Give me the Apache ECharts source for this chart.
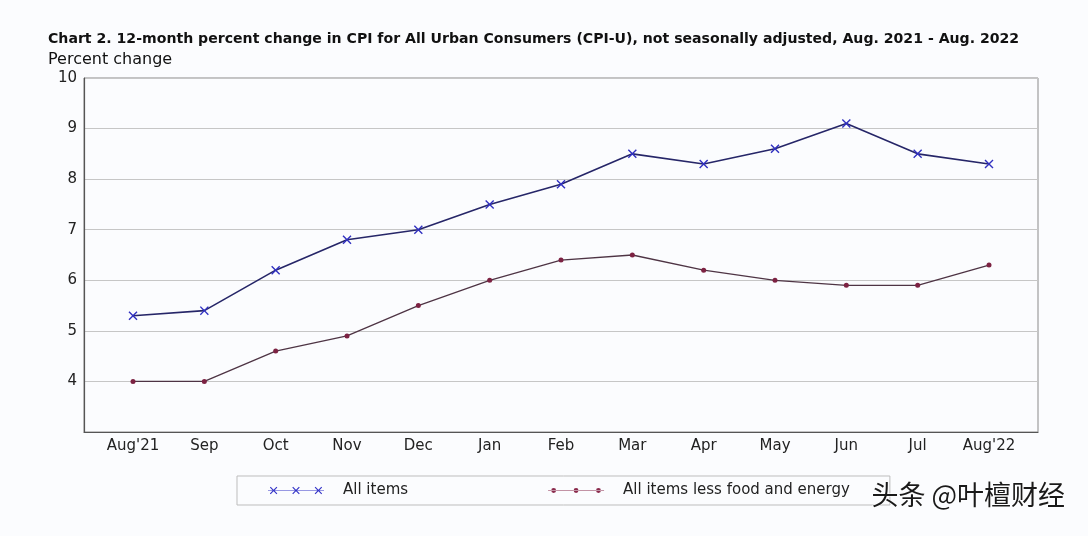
<!DOCTYPE html>
<html>
<head>
<meta charset="utf-8">
<script src="https://cdn.jsdelivr.net/npm/echarts@6/dist/echarts.min.js"></script>
<style>
html,body{margin:0;padding:0;background:#fbfcfe;}
#c{width:1088px;height:536px;}
</style>
</head>
<body>
<div id="c"></div>
<script>
const categories = ["Aug'21","Sep","Oct","Nov","Dec","Jan","Feb","Mar","Apr","May","Jun","Jul","Aug'22"];
const allItems = [5.3, 5.4, 6.2, 6.8, 7.0, 7.5, 7.9, 8.5, 8.3, 8.6, 9.1, 8.5, 8.3];
const coreItems = [4.0, 4.0, 4.6, 4.9, 5.5, 6.0, 6.4, 6.5, 6.2, 6.0, 5.9, 5.9, 6.3];
const yTicks = [3, 4, 5, 6, 7, 8, 9, 10];
const seriesNames = ["All items", "All items less food and energy"];

function crossPath(cx, cy, h, d) {
  return `M${cx-h},${cy-h+d}L${cx-h+d},${cy-h}L${cx},${cy-d}L${cx+h-d},${cy-h}L${cx+h},${cy-h+d}L${cx+d},${cy}L${cx+h},${cy+h-d}L${cx+h-d},${cy+h}L${cx},${cy+d}L${cx-h+d},${cy+h}L${cx-h},${cy+h-d}L${cx-d},${cy}Z`;
}
function dotPath(cx, cy, r) {
  return `M${cx-r},${cy}A${r},${r} 0 1,0 ${cx+r},${cy}A${r},${r} 0 1,0 ${cx-r},${cy}Z`;
}
const xSymbol = 'path://' + crossPath(5, 5, 5, 1.1);
const legendAll = 'path://M0,4.6L60,4.6L60,5.4L0,5.4Z' + [6, 30, 54].map(c => crossPath(c, 5, 4, 0.9)).join('');
const legendCore = 'path://M0,4.6L60,4.6L60,5.4L0,5.4Z' + [6, 30, 54].map(c => dotPath(c, 5, 2.6)).join('');

const chart = echarts.init(document.getElementById('c'));
const font = 'DejaVu Sans, Verdana, sans-serif';
chart.setOption({
  backgroundColor: '#fbfcfe',
  animation: false,
  textStyle: {fontFamily: font},
  title: [
    {text: 'Chart 2. 12-month percent change in CPI for All Urban Consumers (CPI-U), not seasonally adjusted, Aug. 2021 - Aug. 2022',
     left: 48, top: 32, padding: 0, textStyle: {fontSize: 14.1, fontWeight: 'bold', color: '#111', fontFamily: font}},
    {text: 'Percent change', left: 48, top: 52, padding: 0, textStyle: {fontSize: 16, fontWeight: 'normal', color: '#111', fontFamily: font}}
  ],
  grid: [
    {left: 84, right: 50, top: 78, bottom: 104, show: true, borderColor: '#8a8a8a', borderWidth: 1, backgroundColor: 'transparent'},
    {left: 133, right: 99, top: 78, bottom: 104}
  ],
  xAxis: [
    {gridIndex: 0, type: 'value', min: 0, max: 1, axisLine: {show: true, onZero: false, lineStyle: {color: '#555', width: 1.2}},
     axisTick: {show: false}, axisLabel: {show: false}, splitLine: {show: false}},
    {gridIndex: 1, type: 'category', data: categories, boundaryGap: false,
     axisLine: {show: false}, axisTick: {show: false}, splitLine: {show: false},
     axisLabel: {fontSize: 15, color: '#222', margin: 7, interval: 0, fontFamily: font}}
  ],
  yAxis: [
    {gridIndex: 0, type: 'value', min: yTicks[0], max: yTicks[yTicks.length-1], interval: 1,
     axisLine: {show: true, lineStyle: {color: '#555', width: 1.2}}, axisTick: {show: false},
     axisLabel: {fontSize: 15, color: '#222', margin: 7, fontFamily: font, formatter: v => v === yTicks[0] ? '' : String(v)},
     splitLine: {show: true, lineStyle: {color: '#c6c6c6', width: 1}}},
    {gridIndex: 1, type: 'value', min: yTicks[0], max: yTicks[yTicks.length-1], show: false, splitLine: {show: false}}
  ],
  legend: {
    left: 237, top: 476, orient: 'horizontal', z: 2,
    padding: [7, 40, 7, 31], itemGap: 140,
    borderColor: '#bdbdbd', borderWidth: 1, backgroundColor: '#fbfcfe',
    itemWidth: 56, itemHeight: 9,
    textStyle: {fontSize: 15, color: '#222', padding: [0, 0, 0, 14], fontFamily: font},
    data: [
      {name: seriesNames[0], icon: legendAll, itemStyle: {color: '#3535c8'}},
      {name: seriesNames[1], icon: legendCore, itemStyle: {color: '#8a2a4c'}}
    ]
  },
  series: [
    {name: seriesNames[0], type: 'line', xAxisIndex: 1, yAxisIndex: 1, data: allItems,
     symbol: xSymbol, symbolSize: 9, showAllSymbol: true,
     lineStyle: {color: '#262668', width: 1.6}, itemStyle: {color: '#3030c0'}},
    {name: seriesNames[1], type: 'line', xAxisIndex: 1, yAxisIndex: 1, data: coreItems,
     symbol: 'circle', symbolSize: 5, showAllSymbol: true,
     lineStyle: {color: '#4e3444', width: 1.3}, itemStyle: {color: '#7c2242'}}
  ],
  graphic: [
    {type: 'text', left: 871, top: 481, z: 100, zlevel: 1,
     style: {text: '头条 @叶檀财经', fontSize: 27, fill: '#1a1a1a', fontFamily: 'Noto Sans CJK SC',
       stroke: '#ffffff', lineWidth: 1}}
  ]
});
</script>
</body>
</html>
